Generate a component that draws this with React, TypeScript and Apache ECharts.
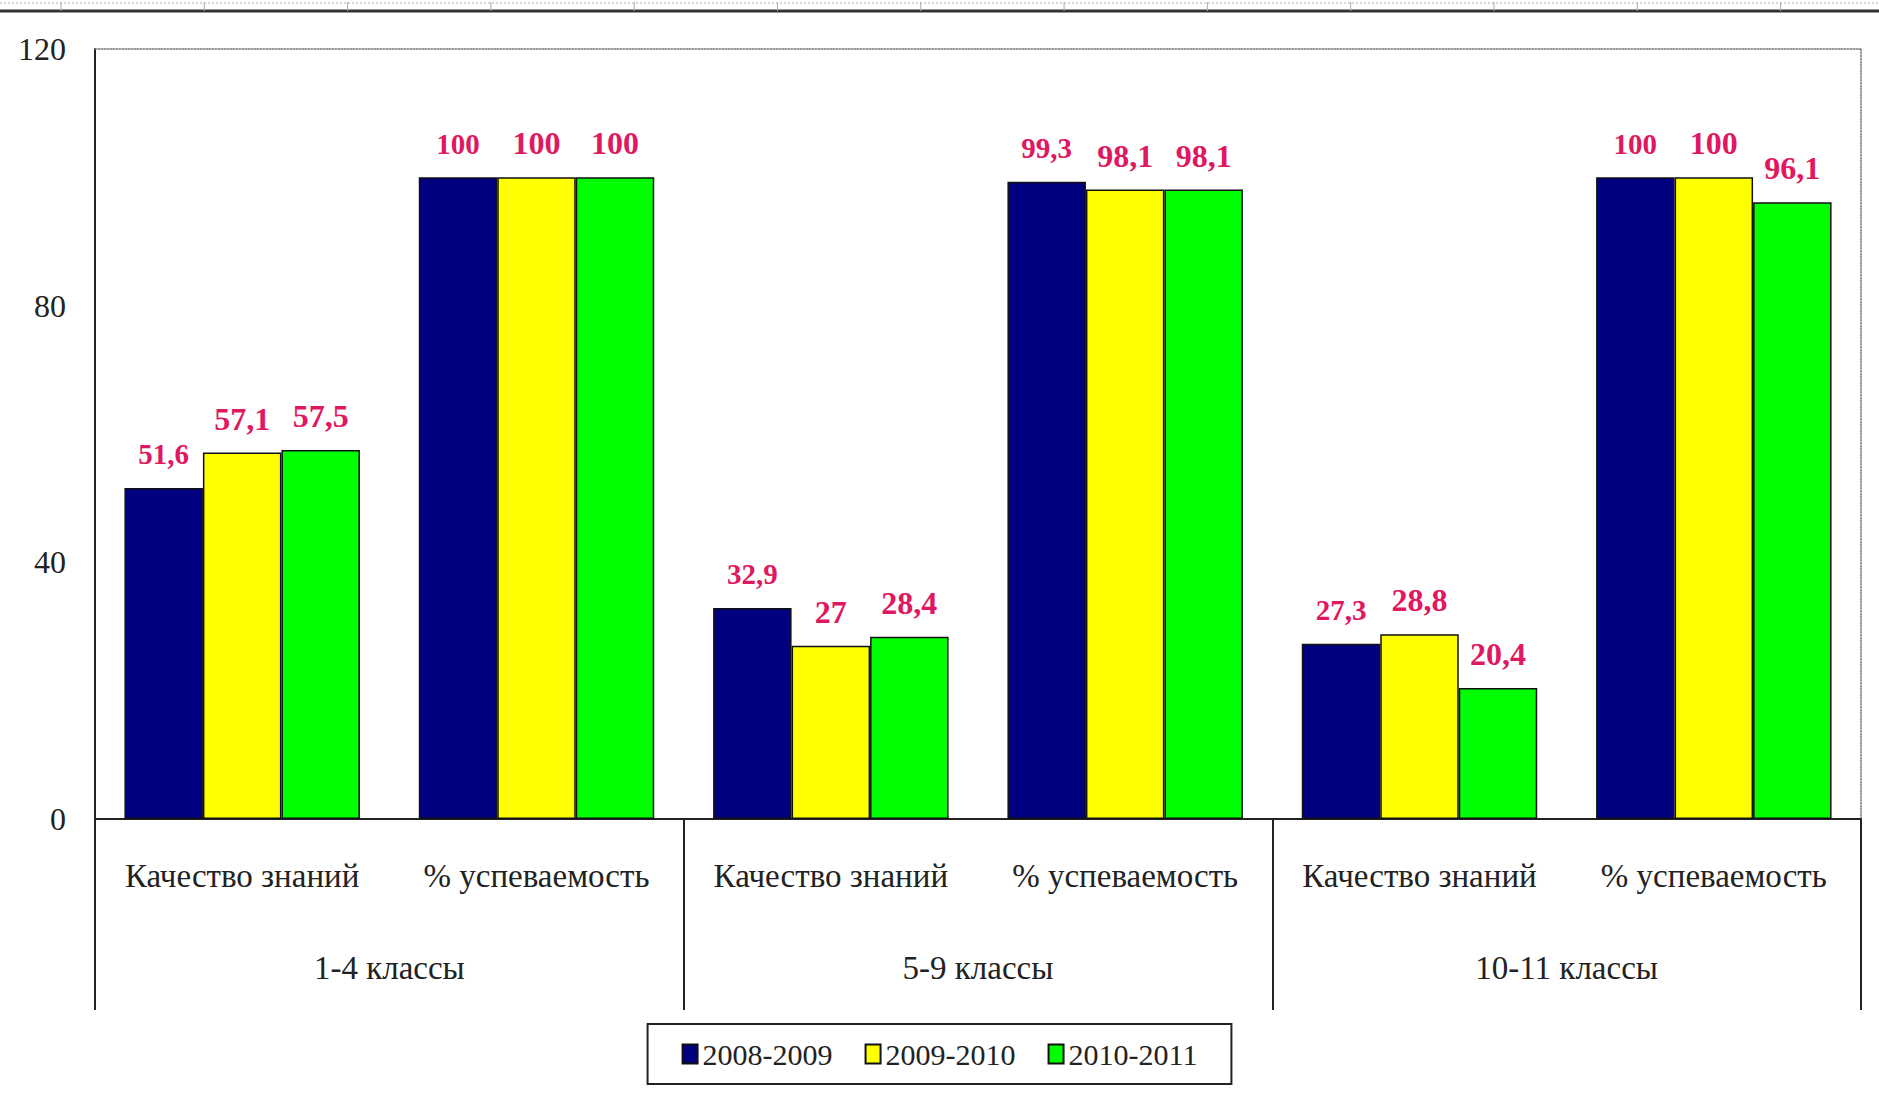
import React, { useEffect, useRef } from "react";
import * as echarts from "echarts";

const categories = [
  "Качество знаний",
  "% успеваемость",
  "Качество знаний",
  "% успеваемость",
  "Качество знаний",
  "% успеваемость",
];
const groups = ["1-4 классы", "5-9 классы", "10-11 классы"];
const seriesNames = ["2008-2009", "2009-2010", "2010-2011"];
const values2008 = [51.6, 100, 32.9, 99.3, 27.3, 100];
const values2009 = [57.1, 100, 27, 98.1, 28.8, 100];
const values2010 = [57.5, 100, 28.4, 98.1, 20.4, 96.1];
const seriesColors = ["#000080", "#FFFF00", "#00FF00"];
const yTicks = { min: 0, max: 120, interval: 40 };

const FONT = "'Liberation Serif', 'Times New Roman', serif";
const LABEL_COLOR = "#E0185F";

export default function App() {
  const ref = useRef<HTMLDivElement>(null);

  useEffect(() => {
    if (!ref.current) return;
    const chart = echarts.init(ref.current, undefined, { renderer: "svg" });
    const allValues = [values2008, values2009, values2010];
    const fmt = (p: any) => String(p.value).replace(".", ",");

    const series = allValues.map((vals, i) => ({
      name: seriesNames[i],
      type: "bar",
      xAxisIndex: 0,
      yAxisIndex: 0,
      data: vals,
      barCategoryGap: "20%",
      barGap: "0%",
      itemStyle: {
        color: seriesColors[i],
        borderColor: "#111",
        borderWidth: 1.5,
      },
      label: {
        show: true,
        position: "top",
        distance: i === 0 ? 19 : 18,
        formatter: fmt,
        color: LABEL_COLOR,
        fontFamily: FONT,
        fontWeight: "bold",
        fontSize: i === 0 ? 29 : 32,
      },
    }));

    const rulerTicks: any[] = [];
    for (let x = 61; x < 1879; x += 143.3) {
      rulerTicks.push({
        type: "line",
        shape: { x1: x, y1: 2, x2: x, y2: 11 },
        style: { stroke: "#aaa", lineWidth: 1 },
        silent: true,
      });
    }

    chart.setOption({
      animation: false,
      backgroundColor: "#ffffff",
      textStyle: { fontFamily: FONT },
      grid: { left: 95, right: 18, top: 49, bottom: 282, containLabel: false },
      legend: {
        data: seriesNames,
        left: "center",
        top: 1024,
        padding: [15, 34],
        borderColor: "#222",
        borderWidth: 2,
        itemWidth: 15,
        itemHeight: 19,
        itemGap: 32,
        icon: "rect",
        textStyle: { fontFamily: FONT, fontSize: 30, color: "#222" },
      },
      xAxis: [
        {
          type: "category",
          data: categories,
          position: "bottom",
          axisLine: { show: true, onZero: false, lineStyle: { color: "#222", width: 2 } },
          axisTick: { show: false },
          axisLabel: {
            interval: 0,
            margin: 40,
            fontSize: 33,
            fontFamily: FONT,
            color: "#222",
          },
        },
        {
          type: "category",
          data: groups,
          position: "bottom",
          axisLine: { show: false, onZero: false },
          axisTick: {
            show: true,
            interval: 0,
            length: 191,
            lineStyle: { color: "#222", width: 2 },
          },
          axisLabel: {
            interval: 0,
            margin: 132,
            fontSize: 33,
            fontFamily: FONT,
            color: "#222",
          },
        },
        {
          type: "category",
          data: groups,
          position: "top",
          axisLine: {
            show: true,
            onZero: false,
            lineStyle: { color: "#777", width: 1.5, type: "dotted" },
          },
          axisTick: { show: false },
          axisLabel: { show: false },
        },
      ],
      yAxis: [
        {
          type: "value",
          min: yTicks.min,
          max: yTicks.max,
          interval: yTicks.interval,
          position: "left",
          axisLine: { show: true, onZero: false, lineStyle: { color: "#222", width: 2 } },
          axisTick: { show: false },
          splitLine: { show: false },
          axisLabel: {
            margin: 29,
            fontSize: 32,
            fontFamily: FONT,
            color: "#222",
          },
        },
        {
          type: "value",
          min: yTicks.min,
          max: yTicks.max,
          interval: yTicks.interval,
          position: "right",
          axisLine: {
            show: true,
            onZero: false,
            lineStyle: { color: "#777", width: 1.5, type: "dotted" },
          },
          axisTick: { show: false },
          splitLine: { show: false },
          axisLabel: { show: false },
        },
      ],
      series,
      graphic: [
        {
          type: "line",
          shape: { x1: 0, y1: 3, x2: 1879, y2: 3 },
          style: { stroke: "#aaa", lineWidth: 1, lineDash: [2, 2] },
          silent: true,
        },
        {
          type: "line",
          shape: { x1: 0, y1: 11, x2: 1879, y2: 11 },
          style: { stroke: "#333", lineWidth: 3 },
          silent: true,
        },
        ...rulerTicks,
      ],
    });

    return () => chart.dispose();
  }, []);

  return (
    <div
      ref={ref}
      style={{ position: "absolute", left: 0, top: 0, width: 1879, height: 1101 }}
    />
  );
}
